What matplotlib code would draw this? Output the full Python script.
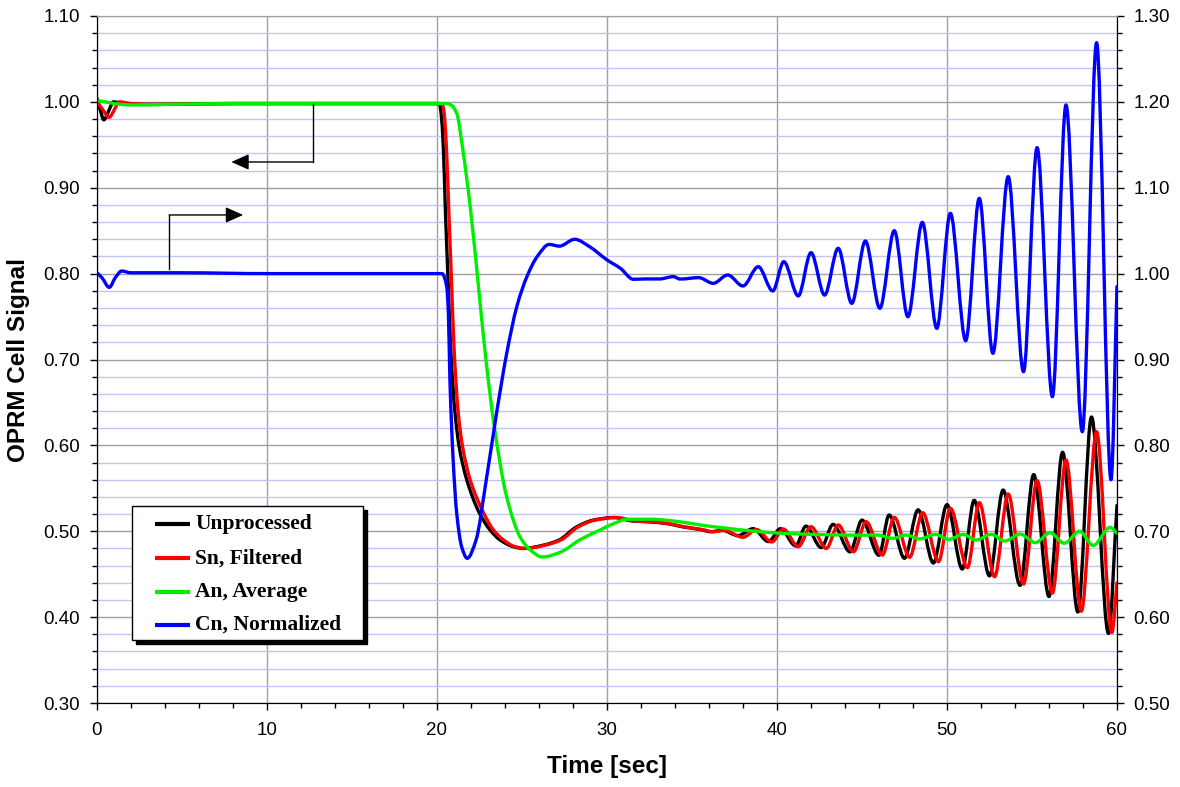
import numpy as np
import matplotlib
matplotlib.use("Agg")
import matplotlib.pyplot as plt
from matplotlib.path import Path
from matplotlib.patches import PathPatch, Rectangle
from matplotlib.ticker import MultipleLocator, FormatStrFormatter

plt.rcParams['font.family'] = ['Liberation Sans', 'DejaVu Sans']

# ---- data (time in sec) ----
# Unprocessed (left axis)
black_t = [0.0, 0.2, 0.4, 0.7, 0.96, 1.5, 3.0, 8.0, 15.0, 20.15, 20.25, 20.37, 20.5, 20.65,
           20.8, 21.06, 21.3, 21.75, 22.5, 23.1, 23.7, 24.5, 25.06, 26.3, 27.2, 28.2, 29.2,
           30.4, 31.5, 32.5, 33.5, 34.5, 35.5, 36.1, 36.8, 37.7, 38.6, 39.5, 40.2, 41.1,
           41.7, 42.6, 43.3, 44.3, 45.0, 46.0, 46.6, 47.5, 48.3, 49.2, 50.0, 50.9, 51.6,
           52.5, 53.3, 54.3, 55.1, 56.0, 56.8, 57.7, 58.5, 59.5, 60.0]
black_v = [1.004, 0.990, 0.979, 0.990, 1.000, 0.998, 0.997, 0.998, 0.998, 0.998, 0.985, 0.948,
           0.870, 0.793, 0.715, 0.638, 0.599, 0.560, 0.521, 0.502, 0.490, 0.482, 0.480,
           0.484, 0.490, 0.505, 0.513, 0.516, 0.512, 0.511, 0.509, 0.505, 0.502, 0.4995,
           0.501, 0.495, 0.503, 0.488, 0.503, 0.483, 0.506, 0.481, 0.508, 0.476, 0.513,
           0.472, 0.519, 0.4685, 0.525, 0.463, 0.531, 0.456, 0.536, 0.448, 0.548, 0.437,
           0.566, 0.424, 0.592, 0.406, 0.633, 0.381, 0.53]

# Sn, Filtered (left axis)
red_t = [0.0, 0.3, 0.72, 1.0, 1.3, 2.0, 3.0, 8.0, 15.0, 20.3, 20.43, 20.55, 20.7, 20.85,
         21.0, 21.25, 21.5, 21.95, 22.75, 23.3, 23.9, 24.6, 25.2, 26.4, 27.3, 28.3, 29.3,
         30.6, 31.6, 32.6, 33.6, 34.6, 35.6, 36.2, 36.9, 38.0, 38.8, 39.7, 40.37, 41.25,
         42.0, 42.9, 43.6, 44.5, 45.24, 46.2, 46.9, 47.8, 48.57, 49.5, 50.2, 51.2, 51.9,
         52.8, 53.6, 54.5, 55.3, 56.2, 57.0, 57.9, 58.8, 59.7, 60.0]
red_v = [1.000, 0.992, 0.982, 0.990, 1.000, 0.998, 0.997, 0.998, 0.998, 0.998, 0.985, 0.948,
         0.870, 0.793, 0.715, 0.638, 0.599, 0.560, 0.521, 0.502, 0.490, 0.482, 0.480, 0.484,
         0.490, 0.505, 0.513, 0.516, 0.512, 0.511, 0.509, 0.505, 0.502, 0.4995, 0.501,
         0.493, 0.502, 0.4875, 0.5026, 0.482, 0.5053, 0.480, 0.5073, 0.4762, 0.5111,
         0.4723, 0.5162, 0.4697, 0.5216, 0.4646, 0.5267, 0.4576, 0.5333, 0.4471, 0.5434,
         0.4386, 0.559, 0.428, 0.583, 0.407, 0.616, 0.382, 0.44]

# An, Average (left axis)
green_t = [0.0, 0.5, 1.0, 2.0, 4.0, 8.0, 15.0, 20.6, 20.85, 21.16, 21.5, 22.0, 22.5, 22.9,
           23.4, 24.1, 24.9, 25.5, 26.2, 27.3, 28.4, 29.6, 30.4, 31.2, 32.6, 34.3, 35.5,
           38.4, 40.0, 41.4, 43.0, 44.5, 45.9, 46.8, 47.6, 48.4, 49.3, 50.1, 50.96, 51.7,
           52.6, 53.4, 54.3, 55.2, 56.06, 56.9, 57.8, 58.6, 59.6, 60.0]
green_v = [1.0014, 1.000, 0.998, 0.9964, 0.997, 0.998, 0.998, 0.998, 0.996, 0.9867, 0.947,
           0.870, 0.773, 0.696, 0.618, 0.540, 0.493, 0.478, 0.470, 0.476, 0.490, 0.5015,
           0.509, 0.514, 0.514, 0.511, 0.5073, 0.5006, 0.498, 0.4968, 0.496, 0.4955, 0.4956,
           0.4918, 0.4956, 0.4910, 0.4964, 0.4906, 0.4964, 0.4898, 0.4964, 0.4886, 0.4968,
           0.4867, 0.4983, 0.486, 0.500, 0.4835, 0.5046, 0.4976]

# Cn, Normalized (right axis)
blue_t = [0.0, 0.3, 0.72, 1.1, 1.45, 2.0, 5.0, 10.0, 20.3, 20.57, 20.67, 20.76, 20.96, 21.16,
          21.45, 21.78, 22.3, 22.9, 23.5, 24.1, 24.7, 25.3, 25.9, 26.6, 27.2, 28.1, 29.0,
          30.0, 30.8, 31.55, 32.3, 33.1, 33.9, 34.3, 35.4, 36.25, 37.1, 38.0, 38.9, 39.75,
          40.4, 41.25, 42.0, 42.8, 43.6, 44.4, 45.2, 46.05, 46.9, 47.7, 48.55, 49.4, 50.2,
          51.1, 51.9, 52.7, 53.6, 54.5, 55.3, 56.2, 57.0, 57.96, 58.8, 59.65, 60.0]
blue_v = [1.001, 0.995, 0.984, 0.996, 1.003, 1.001, 1.001, 1.000, 1.000, 0.985, 0.954, 0.876,
          0.7795, 0.721, 0.682, 0.6685, 0.690, 0.760, 0.837, 0.907, 0.962, 0.997, 1.020,
          1.034, 1.032, 1.040, 1.031, 1.016, 1.006, 0.9934, 0.9938, 0.9938, 0.9965, 0.9937,
          0.9953, 0.9887, 0.9984, 0.9856, 1.0081, 0.9798, 1.0139, 0.974, 1.0244, 0.975,
          1.0295, 0.9654, 1.038, 0.9596, 1.050, 0.9498, 1.0597, 0.9363, 1.0702, 0.9219,
          1.0877, 0.9072, 1.1129, 0.8858, 1.1467, 0.8567, 1.1964, 0.8159, 1.2689, 0.760,
          0.985]

labels = ['Unprocessed', 'Sn, Filtered', 'An, Average', 'Cn, Normalized']
colors = ['#000000', '#ff0000', '#00ee00', '#0000ff']


def smooth_path(x, y):
    # smoothed line like the spreadsheet's, drawn as bezier segments through the points
    x = np.asarray(x, float)
    y = np.asarray(y, float)
    h = np.diff(x)
    s = np.diff(y) / h
    d = np.zeros_like(x)
    d[0], d[-1] = s[0], s[-1]
    for i in range(1, len(x) - 1):
        if s[i - 1] * s[i] > 0:
            w1 = 2 * h[i] + h[i - 1]
            w2 = h[i] + 2 * h[i - 1]
            d[i] = (w1 + w2) / (w1 / s[i - 1] + w2 / s[i])
    verts = [(x[0], y[0])]
    codes = [Path.MOVETO]
    for i in range(len(x) - 1):
        verts += [(x[i] + h[i] / 3, y[i] + d[i] * h[i] / 3),
                  (x[i + 1] - h[i] / 3, y[i + 1] - d[i + 1] * h[i] / 3),
                  (x[i + 1], y[i + 1])]
        codes += [Path.CURVE4] * 3
    return Path(verts, codes)


fig = plt.figure(figsize=(11.8, 7.87), dpi=100)
ax = fig.add_axes([0.0822, 0.1067, 0.9466 - 0.0822, 0.9797 - 0.1067])
ax2 = ax.twinx()

# grid
ax.xaxis.set_major_locator(MultipleLocator(10))
ax.xaxis.set_minor_locator(MultipleLocator(2))
ax.yaxis.set_major_locator(MultipleLocator(0.1))
ax.yaxis.set_minor_locator(MultipleLocator(0.02))
ax2.yaxis.set_major_locator(MultipleLocator(0.1))
ax2.yaxis.set_minor_locator(MultipleLocator(0.02))
ax.yaxis.set_major_formatter(FormatStrFormatter('%.2f'))
ax2.yaxis.set_major_formatter(FormatStrFormatter('%.2f'))
ax.grid(True, which='minor', axis='y', color='#c4c4f6', lw=1.0)
ax.grid(True, which='major', axis='y', color='#a0a0a0', lw=1.0)
ax.grid(True, which='major', axis='x', color='#a0a0a0', lw=1.0)
ax.set_axisbelow(True)

for a in (ax, ax2):
    a.tick_params(which='major', direction='out', length=5, width=1, labelsize=13.5, pad=7)
    a.tick_params(which='minor', direction='out', length=3.5, width=1)
    for sp in ('left', 'right', 'bottom'):
        a.spines[sp].set_color('black')
    a.spines['top'].set_color('#a0a0a0')
ax.tick_params(axis='x', pad=9)

# curves
for t, v, c in [(black_t, black_v, colors[0]), (red_t, red_v, colors[1]),
                (green_t, green_v, colors[2])]:
    ax.add_patch(PathPatch(smooth_path(t, v), fill=False, edgecolor=c, lw=2.4,
                           joinstyle='round', capstyle='round'))
ax2.add_patch(PathPatch(smooth_path(blue_t, blue_v), fill=False, edgecolor=colors[3], lw=2.4,
                        joinstyle='round', capstyle='round'))
ax.set_xlim(0, 60)
ax.set_ylim(0.30, 1.10)
ax2.set_ylim(0.50, 1.30)

# axis pointers
arrow = dict(arrowstyle='-|>,head_length=0.9,head_width=0.4', color='black', lw=1,
             mutation_scale=12, shrinkA=0, shrinkB=0)
ax.plot([12.7, 12.7], [0.998, 0.930], color='black', lw=1)
ax.annotate('', xy=(7.9, 0.930), xytext=(12.7, 0.930), arrowprops=arrow)
ax.plot([4.25, 4.25], [0.805, 0.8683], color='black', lw=1)
ax.annotate('', xy=(8.6, 0.8683), xytext=(4.25, 0.8683), arrowprops=arrow)

# labels
ax.set_xlabel('Time [sec]', fontsize=17.5, fontweight='bold')
ax.set_ylabel('OPRM Cell Signal', fontsize=17.5, fontweight='bold')
ax.xaxis.set_label_coords(0.5, -0.076)
ax.yaxis.set_label_coords(-0.066, 0.5)

# legend box with solid shadow
lx0, ly0, lw_, lh = 0.0346, 0.0917, 0.2265, 0.1951
ax2.add_patch(Rectangle((lx0 + 4 / 1020, ly0 - 4 / 687), lw_, lh, transform=ax2.transAxes,
                        facecolor='black', edgecolor='black', zorder=8))
ax2.add_patch(Rectangle((lx0, ly0), lw_, lh, transform=ax2.transAxes,
                        facecolor='white', edgecolor='black', lw=1, zorder=9))
rows = [0.2601, 0.2106, 0.1620, 0.1135]
for lab, c, ry in zip(labels, colors, rows):
    ax2.plot([0.0569, 0.0912], [ry, ry], color=c, lw=3, transform=ax2.transAxes, zorder=10,
             solid_capstyle='butt')
    ax2.text(0.0961, ry, lab, transform=ax2.transAxes, va='center', ha='left', zorder=10,
             fontsize=15.5, fontweight='bold', family=['Liberation Serif', 'DejaVu Serif'])

fig.savefig('out.png', dpi=100)
